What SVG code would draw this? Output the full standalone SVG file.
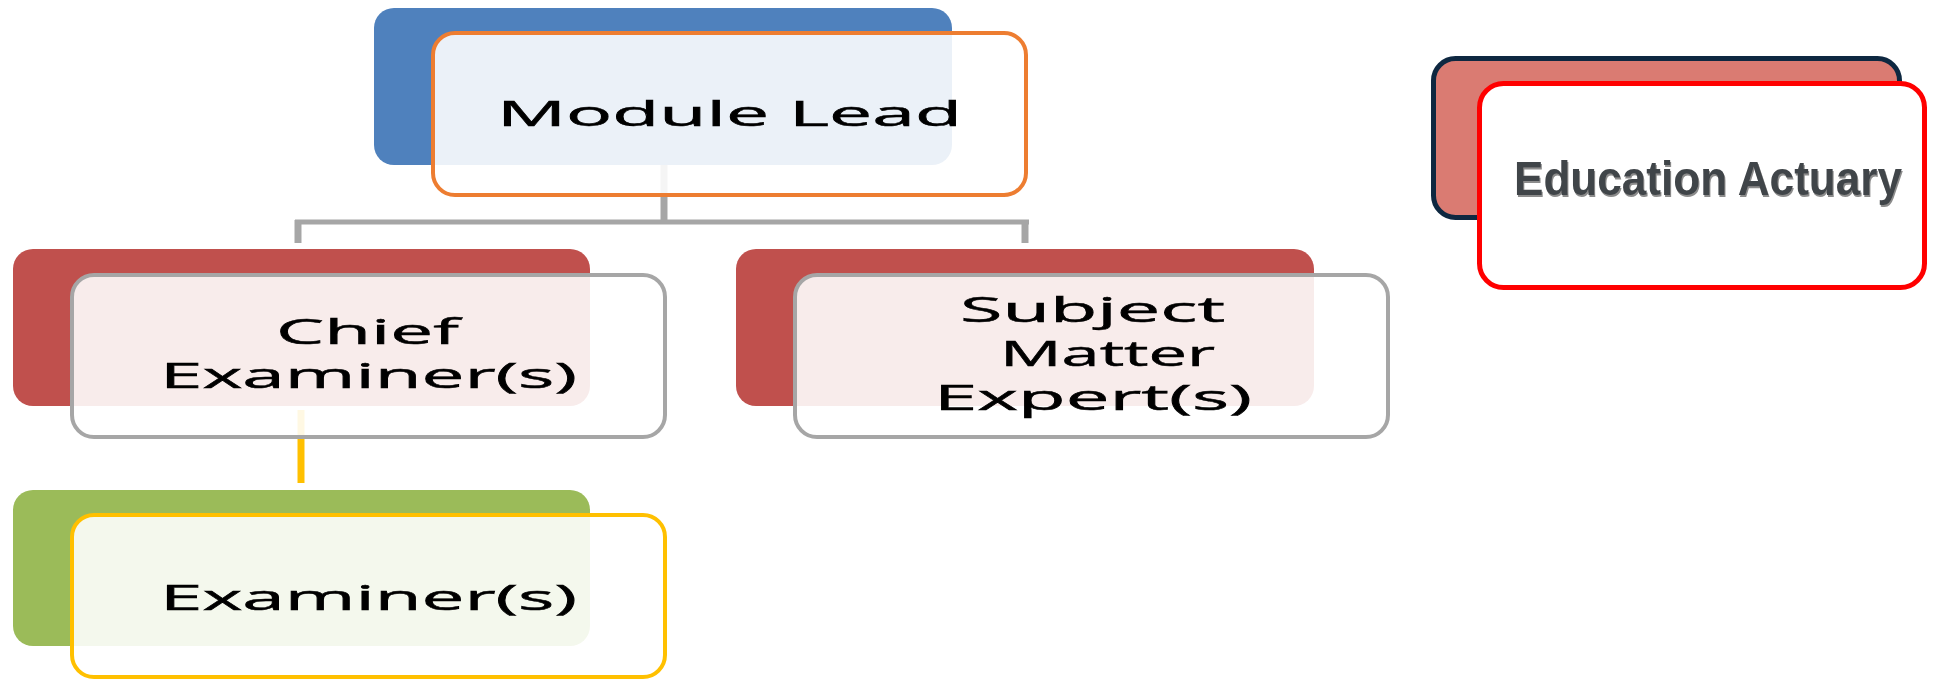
<svg xmlns="http://www.w3.org/2000/svg" width="1934" height="679" viewBox="0 0 1934 679">
<defs>
<style>
.back{stroke:none}
.front{fill:#ffffff;fill-opacity:0.89;stroke-width:4}
.lbl{font-family:"Open Sans","Noto Sans","DejaVu Sans",sans-serif;font-size:34px;fill:#000000;stroke:#000000;stroke-width:0.5}
.conn{fill:none;stroke:#A6A6A6}
.ea{font-family:"Liberation Sans",Arial,sans-serif;font-weight:bold;font-size:49px;fill:#404549}
</style>
<filter id="sh" x="-5%" y="-20%" width="110%" height="140%">
<feDropShadow dx="1" dy="2" stdDeviation="0.6" flood-color="#8c8c8c" flood-opacity="1"/>
</filter>
</defs>
<rect width="1934" height="679" fill="#ffffff"/>
<g id="connectors">
<line class="conn" x1="664" y1="160" x2="664" y2="222" stroke-width="7"/>
<line class="conn" x1="295" y1="222" x2="1029" y2="222" stroke-width="5"/>
<line class="conn" x1="298" y1="220" x2="298" y2="243" stroke-width="7"/>
<line class="conn" x1="1025" y1="220" x2="1025" y2="243" stroke-width="7"/>
<line x1="301" y1="410" x2="301" y2="483" stroke="#FFC000" stroke-width="7"/>
</g>
<g id="module-lead">
<rect class="back" x="374" y="8" width="578" height="157" rx="20" fill="#4F81BD"/>
<rect class="front" x="433" y="33" width="593" height="162" rx="22" stroke="#ED7D31"/>
<text class="lbl" x="497" y="126" textLength="465" lengthAdjust="spacingAndGlyphs">Module Lead</text>
</g>
<g id="chief-examiner">
<rect class="back" x="13" y="249" width="577" height="157" rx="20" fill="#C0504D"/>
<rect class="front" x="72" y="275" width="593" height="162" rx="22" stroke="#A6A6A6"/>
<text class="lbl" x="276" y="344" textLength="183" lengthAdjust="spacingAndGlyphs">Chief</text>
<text class="lbl" x="160" y="388" textLength="417" lengthAdjust="spacingAndGlyphs">Examiner(s)</text>
</g>
<g id="subject-matter-expert">
<rect class="back" x="736" y="249" width="578" height="157" rx="20" fill="#C0504D"/>
<rect class="front" x="795" y="275" width="593" height="162" rx="22" stroke="#A6A6A6"/>
<text class="lbl" x="960" y="322" textLength="265" lengthAdjust="spacingAndGlyphs">Subject</text>
<text class="lbl" x="1000" y="366" textLength="215" lengthAdjust="spacingAndGlyphs">Matter</text>
<text class="lbl" x="934" y="410" textLength="318" lengthAdjust="spacingAndGlyphs">Expert(s)</text>
</g>
<g id="examiner">
<rect class="back" x="13" y="490" width="577" height="156" rx="20" fill="#9BBB59"/>
<rect class="front" x="72" y="515" width="593" height="162" rx="22" stroke="#FFC000"/>
<text class="lbl" x="160" y="610" textLength="417" lengthAdjust="spacingAndGlyphs">Examiner(s)</text>
</g>
<g id="education-actuary">
<rect x="1433.5" y="58.5" width="466" height="159" rx="22" fill="#DA7B72" stroke="#0E2841" stroke-width="5"/>
<rect x="1479.5" y="83.5" width="445" height="204" rx="24" fill="#ffffff" stroke="#FF0000" stroke-width="5"/>
<text class="ea" x="1514" y="195" textLength="388" lengthAdjust="spacingAndGlyphs" filter="url(#sh)">Education Actuary</text>
</g>
</svg>
